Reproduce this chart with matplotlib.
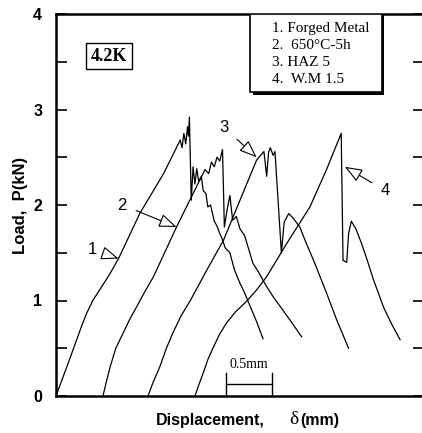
import matplotlib

matplotlib.use("Agg")

import matplotlib.pyplot as plt
from matplotlib.patches import Rectangle

# displacement (mm) and load (kN)
x1 = [0.0, 0.05, 0.10, 0.15, 0.21, 0.27, 0.33, 0.40, 0.48, 0.58, 0.68, 0.91, 1.17, 1.35,
      1.37, 1.39, 1.41, 1.43, 1.44, 1.45,
      1.47, 1.49, 1.51, 1.53, 1.55, 1.58, 1.60, 1.63, 1.65, 1.68, 1.72, 1.75, 1.78, 1.80,
      1.84, 1.89, 1.94, 2.00, 2.05, 2.11, 2.18, 2.25]
p1 = [0.0, 0.13, 0.26, 0.39, 0.55, 0.71, 0.86, 1.0, 1.12, 1.27, 1.44, 1.91, 2.33, 2.68,
      2.60, 2.75, 2.64, 2.82, 2.72, 2.92,
      2.05, 2.40, 2.22, 2.38, 2.25, 2.30, 2.15, 2.12, 1.98, 2.00, 1.83, 1.78, 1.70, 1.66,
      1.55, 1.50, 1.32, 1.18, 1.08, 0.94, 0.78, 0.60]

x2 = [0.51, 0.55, 0.59, 0.65, 0.73, 0.80, 0.88, 0.97, 1.06, 1.31, 1.49, 1.62, 1.66, 1.69,
      1.72, 1.75, 1.78, 1.81,
      1.83, 1.86, 1.89, 1.92, 1.96, 2.00, 2.05, 2.10, 2.14, 2.20, 2.28, 2.36, 2.45, 2.54, 2.67]
p2 = [0.0, 0.16, 0.31, 0.50, 0.66, 0.80, 0.94, 1.10, 1.25, 1.77, 2.12, 2.37, 2.33, 2.45,
      2.40, 2.50, 2.46, 2.58,
      1.77, 1.95, 2.10, 1.84, 1.88, 1.75, 1.68, 1.52, 1.39, 1.30, 1.16, 1.04, 0.92, 0.80, 0.62]

x3 = [1.0, 1.05, 1.13, 1.20, 1.27, 1.36, 1.46, 1.55, 1.64, 1.82, 2.0, 2.18, 2.26, 2.29,
      2.31, 2.33, 2.36, 2.38,
      2.45, 2.48, 2.53, 2.58, 2.65, 2.72, 2.80, 2.87, 2.94, 3.05, 3.18]
p3 = [0.0, 0.13, 0.31, 0.50, 0.66, 0.84, 1.0, 1.16, 1.32, 1.63, 2.05, 2.47, 2.56, 2.30,
      2.55, 2.60, 2.52, 2.56,
      1.50, 1.82, 1.91, 1.86, 1.77, 1.60, 1.42, 1.25, 1.08, 0.80, 0.50]

x4 = [1.51, 1.55, 1.60, 1.65, 1.71, 1.78, 1.85, 1.95, 2.07, 2.18, 2.29, 2.51, 2.76, 2.94,
      3.10, 3.12, 3.16, 3.18, 3.21,
      3.26, 3.32, 3.37, 3.45, 3.56, 3.65, 3.74]
p4 = [0.0, 0.11, 0.24, 0.38, 0.51, 0.65, 0.76, 0.88, 0.99, 1.11, 1.25, 1.60, 1.98, 2.37,
      2.75, 1.42, 1.40, 1.70, 1.83,
      1.75, 1.60, 1.46, 1.22, 0.93, 0.75, 0.59]

legend_lines = ["1. Forged Metal", "2.  650\u00b0C-5h", "3. HAZ 5", "4.  W.M 1.5"]
ytick_vals = [0, 0.5, 1, 1.5, 2, 2.5, 3, 3.5, 4]

fig = plt.figure(figsize=(4.22, 4.33), dpi=100)
ax = fig.add_axes([56 / 422, 37 / 433, 368 / 422, 382 / 433])

for xs, ps in [(x1, p1), (x2, p2), (x3, p3), (x4, p4)]:
    ax.plot(xs, ps, color="black", linewidth=0.9)

ax.set_xlim(0, 4.0)
ax.set_ylim(0, 4.0)
ax.set_xticks([])
ax.set_yticks(ytick_vals)
ax.set_yticklabels([str(int(v)) if v == int(v) else "" for v in ytick_vals],
                   fontfamily="Liberation Sans", fontsize=11.5, fontweight="bold")
ax.tick_params(axis="y", direction="in", length=8, width=1.2, right=True, pad=10)
for s in ["left", "bottom", "top"]:
    ax.spines[s].set_linewidth(1.8)
ax.spines["right"].set_visible(False)

ax.set_ylabel("Load,  P(kN)", fontfamily="Liberation Sans", fontsize=12,
              fontweight="bold", labelpad=4)
fig.text(0.628, 0.012, "Displacement,", fontfamily="Liberation Sans", fontsize=11.5,
         fontweight="bold", ha="right", va="bottom")
fig.text(0.685, 0.012, "\u03b4", fontfamily="Liberation Serif", fontsize=14,
         ha="left", va="bottom")
fig.text(0.712, 0.012, "(mm)", fontfamily="Liberation Sans", fontsize=11.5,
         fontweight="bold", ha="left", va="bottom")

# curve labels with open arrowheads
arrows = [("1", (0.40, 1.53), (0.68, 1.44)),
          ("2", (0.72, 2.00), (1.31, 1.77)),
          ("3", (1.83, 2.81), (2.18, 2.50)),
          ("4", (3.58, 2.15), (3.14, 2.40))]
for lab, xyt, xy in arrows:
    ax.annotate(lab, xy=xy, xytext=xyt, fontsize=12, fontfamily="Liberation Sans",
                ha="center", va="center",
                arrowprops=dict(arrowstyle="-|>,head_length=0.9,head_width=0.35",
                                facecolor="white", edgecolor="black", lw=0.8,
                                shrinkA=5, shrinkB=0))

# 4.2K box
ax.text(0.576, 3.56, "4.2K", fontfamily="Liberation Serif", fontsize=13,
        fontweight="bold", ha="center", va="center",
        bbox=dict(boxstyle="square,pad=0.25", facecolor="white", edgecolor="black", lw=1.0))

# legend box with shadow
ax.add_patch(Rectangle((2.14, 3.155), 1.43, 0.83, facecolor="black", edgecolor="none", zorder=4))
ax.add_patch(Rectangle((2.11, 3.18), 1.43, 0.82, facecolor="white", edgecolor="black",
                       lw=1.2, zorder=5))
for i, line in enumerate(legend_lines):
    ax.text(2.35, 3.85 - i * 0.18, line, fontfamily="Liberation Serif", fontsize=11,
            ha="left", va="center", zorder=6)

# 0.5 mm scale bar
ax.plot([1.85, 2.35], [0.13, 0.13], color="black", lw=1.0)
ax.plot([1.85, 1.85], [0.0, 0.24], color="black", lw=1.0)
ax.plot([2.35, 2.35], [0.0, 0.24], color="black", lw=1.0)
ax.text(2.10, 0.26, "0.5mm", fontfamily="Liberation Serif", fontsize=10,
        ha="center", va="bottom")

fig.savefig("out.png", dpi=100)
